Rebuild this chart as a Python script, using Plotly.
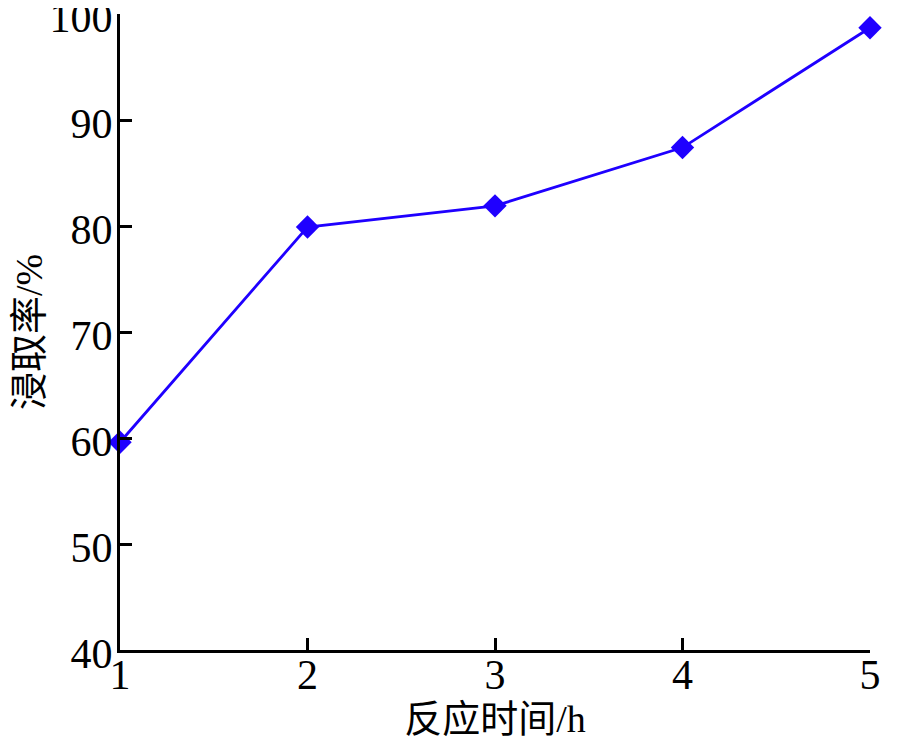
import plotly.graph_objects as go

time_h = [1, 2, 3, 4, 5]
leach_rate = [59.6, 79.9, 81.9, 87.4, 98.7]
x_ticks = [1, 2, 3, 4, 5]
y_ticks = [40, 50, 60, 70, 80, 90, 100]

font_fam = "Liberation Serif, Times New Roman, Noto Sans CJK SC, serif"

fig = go.Figure()
fig.add_trace(go.Scatter(
    x=time_h, y=leach_rate, mode="lines+markers",
    line=dict(color="#1f00ff", width=2.8),
    marker=dict(symbol="diamond", size=18, color="#1f00ff"),
    cliponaxis=False, showlegend=False,
))

axis_common = dict(
    showline=True, linecolor="black", linewidth=3,
    ticks="inside", ticklen=12, tickwidth=2.5, tickcolor="black",
    showgrid=False, zeroline=False, mirror=False, automargin=False,
    ticklabeloverflow="allow",
    tickfont=dict(family=font_fam, size=42, color="black"),
)

fig.update_layout(
    width=900, height=750,
    margin=dict(l=112, r=38, t=6, b=108),
    paper_bgcolor="white", plot_bgcolor="white",
    xaxis=dict(range=[1, 5], tickvals=x_ticks, ticklabelstandoff=-14,
               title=dict(text="反应时间/h", standoff=0,
                          font=dict(family=font_fam, size=38, color="black")),
               **axis_common),
    yaxis=dict(range=[40, 100], tickvals=y_ticks, ticklabelstandoff=-4,
               ticklabelshift=3,
               title=dict(text="浸取率/%", standoff=9,
                          font=dict(family=font_fam, size=38, color="black")),
               **axis_common),
)

fig.write_html("out.html")
